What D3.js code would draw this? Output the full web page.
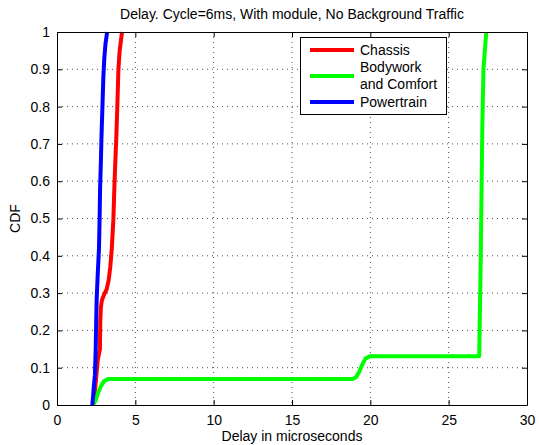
<!DOCTYPE html>
<html>
<head>
<meta charset="utf-8">
<script src="https://cdn.jsdelivr.net/npm/d3@7"></script>
<style>
  body { margin: 0; background: #fff; }
  svg text { font-family: "Liberation Sans", Arial, Helvetica, sans-serif; fill: #000; }
</style>
</head>
<body>
<div id="chart"></div>
<script>
// CDF curves (delay in microseconds, cumulative probability)
var chassisX = [2.3, 2.45, 2.6, 2.74, 2.76, 2.8, 2.86, 2.95, 3.05, 3.17, 3.3, 3.4, 3.5, 3.6, 3.66, 3.72, 3.78, 3.85, 3.92, 4.0, 4.15];
var chassisY = [0, 0.05, 0.12, 0.15, 0.22, 0.26, 0.28, 0.29, 0.3, 0.31, 0.335, 0.37, 0.42, 0.5, 0.58, 0.65, 0.71, 0.8, 0.9, 0.95, 1];

var bodyX = [2.3, 2.45, 2.6, 2.8, 3.0, 3.3, 18.9, 19.1, 19.3, 19.5, 19.7, 20.0, 26.95, 27.05, 27.15, 27.22, 27.4];
var bodyY = [0, 0.01, 0.03, 0.05, 0.064, 0.07, 0.07, 0.075, 0.09, 0.11, 0.125, 0.131, 0.131, 0.4, 0.75, 0.9, 1];

var powerX = [2.25, 2.3, 2.35, 2.42, 2.47, 2.5, 2.53, 2.6, 2.68, 2.72, 2.75, 2.8, 2.84, 2.9, 2.96, 3.02, 3.1, 3.2];
var powerY = [0, 0.02, 0.05, 0.08, 0.15, 0.22, 0.28, 0.35, 0.42, 0.5, 0.58, 0.65, 0.72, 0.8, 0.88, 0.93, 0.97, 1];

var xTicks = [0, 5, 10, 15, 20, 25, 30];
var yTicks = [0, 0.1, 0.2, 0.3, 0.4, 0.5, 0.6, 0.7, 0.8, 0.9, 1];

var series = [
    { name: ["Chassis"], color: "#ff0000", xs: chassisX, ys: chassisY },
    { name: ["Bodywork", "and Comfort"], color: "#00ff00", xs: bodyX, ys: bodyY },
    { name: ["Powertrain"], color: "#0000ff", xs: powerX, ys: powerY }
];

var W = 539, H = 445;
var margin = { top: 32, right: 12, bottom: 40, left: 57 };
var width = W - margin.left - margin.right;
var height = H - margin.top - margin.bottom;

var svg = d3.select("#chart").append("svg")
    .attr("width", W)
    .attr("height", H);

var g = svg.append("g")
    .attr("transform", "translate(" + margin.left + "," + margin.top + ")");

var x = d3.scaleLinear().domain([0, 30]).range([0, width]);
var y = d3.scaleLinear().domain([0, 1]).range([height, 0]);

// dotted grid
g.selectAll("line.gx")
    .data(xTicks.slice(1, -1))
    .enter().append("line")
    .attr("class", "gx")
    .attr("x1", function(d) { return x(d); })
    .attr("x2", function(d) { return x(d); })
    .attr("y1", 0)
    .attr("y2", height)
    .attr("stroke", "#000")
    .attr("stroke-width", 1)
    .attr("stroke-dasharray", "1,4")
    .attr("stroke-opacity", 0.7);

g.selectAll("line.gy")
    .data(yTicks.slice(1, -1))
    .enter().append("line")
    .attr("class", "gy")
    .attr("x1", 0)
    .attr("x2", width)
    .attr("y1", function(d) { return y(d); })
    .attr("y2", function(d) { return y(d); })
    .attr("stroke", "#000")
    .attr("stroke-width", 1)
    .attr("stroke-dasharray", "1,4")
    .attr("stroke-opacity", 0.7);

// curves
var line = d3.line()
    .x(function(d) { return x(d[0]); })
    .y(function(d) { return y(d[1]); });

series.forEach(function(s) {
    var pts = s.xs.map(function(v, i) { return [v, s.ys[i]]; });
    g.append("path")
        .datum(pts)
        .attr("d", line)
        .attr("fill", "none")
        .attr("stroke", s.color)
        .attr("stroke-width", 4)
        .attr("stroke-linejoin", "round");
});

// axes with inward ticks, box on all four sides
var fmtY = function(d) { return d === 0 || d === 1 ? String(d) : d.toFixed(1); };

var bottomAxis = g.append("g")
    .attr("transform", "translate(0," + height + ")")
    .call(d3.axisBottom(x).tickValues(xTicks).tickSizeInner(-5).tickSizeOuter(0).tickPadding(10));
var topAxis = g.append("g")
    .call(d3.axisTop(x).tickValues(xTicks).tickSizeInner(-5).tickSizeOuter(0).tickFormat(""));
var leftAxis = g.append("g")
    .call(d3.axisLeft(y).tickValues(yTicks).tickSizeInner(-5).tickSizeOuter(0).tickPadding(7).tickFormat(fmtY));
var rightAxis = g.append("g")
    .attr("transform", "translate(" + width + ",0)")
    .call(d3.axisRight(y).tickValues(yTicks).tickSizeInner(-5).tickSizeOuter(0).tickFormat(""));

[bottomAxis, topAxis, leftAxis, rightAxis].forEach(function(a) {
    a.selectAll("path.domain").attr("stroke", "#000").attr("stroke-width", 1);
    a.selectAll(".tick line").attr("stroke", "#000");
    a.selectAll("text").attr("font-size", 14).attr("font-family", null).attr("fill", "#000");
});

// title and axis labels
svg.append("text")
    .attr("x", margin.left + width / 2)
    .attr("y", 19)
    .attr("text-anchor", "middle")
    .attr("font-size", 14)
    .text("Delay. Cycle=6ms, With module, No Background Traffic");

svg.append("text")
    .attr("x", margin.left + width / 2)
    .attr("y", 441)
    .attr("text-anchor", "middle")
    .attr("font-size", 14)
    .text("Delay in microseconds");

svg.append("text")
    .attr("transform", "translate(20," + (margin.top + height / 2) + ") rotate(-90)")
    .attr("text-anchor", "middle")
    .attr("font-size", 14)
    .text("CDF");

// legend
var legend = svg.append("g");
legend.append("rect")
    .attr("x", 300.5)
    .attr("y", 37.5)
    .attr("width", 146)
    .attr("height", 77)
    .attr("fill", "#fff")
    .attr("stroke", "#000");

var rowY = [50, 76, 102];
var textY = [[55], [72, 89], [107]];
series.forEach(function(s, i) {
    legend.append("line")
        .attr("x1", 310)
        .attr("x2", 354)
        .attr("y1", rowY[i])
        .attr("y2", rowY[i])
        .attr("stroke", s.color)
        .attr("stroke-width", 4);
    s.name.forEach(function(t, j) {
        legend.append("text")
            .attr("x", 360)
            .attr("y", textY[i][j])
            .attr("font-size", 14)
            .text(t);
    });
});
</script>
</body>
</html>
